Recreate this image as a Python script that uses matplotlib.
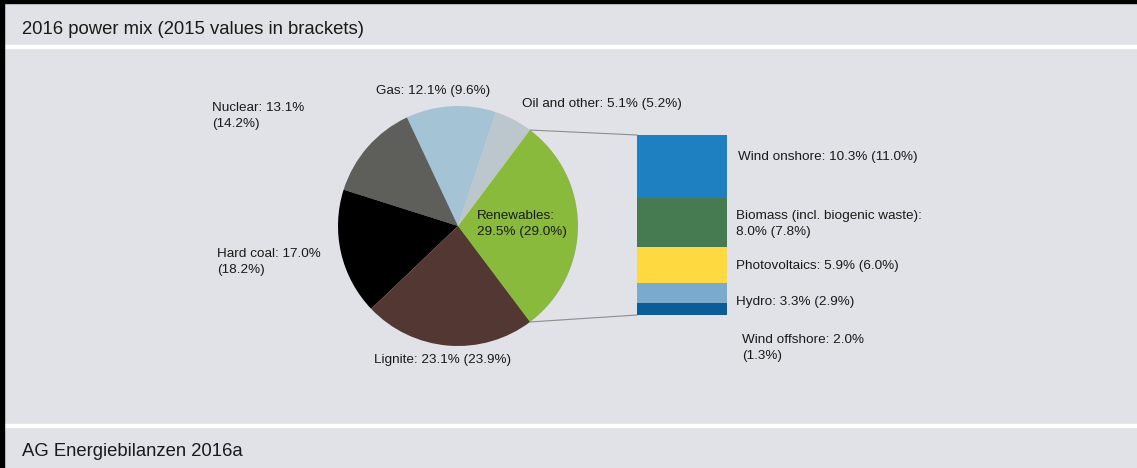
import matplotlib.pyplot as plt
from matplotlib.patches import Rectangle, ConnectionPatch
import numpy as np

W, H = 1137, 468

# 2016 power mix, share of gross generation in %, 2015 in brackets
sources = ["Renewables", "Oil and other", "Gas", "Nuclear", "Hard coal", "Lignite"]
share_2016 = [29.5, 5.1, 12.1, 13.1, 17.0, 23.1]
share_2015 = [29.0, 5.2, 9.6, 14.2, 18.2, 23.9]
pie_colors = ["#8aba3c", "#bcc6cd", "#a4c3d5", "#5e5f5a", "#000000", "#523732"]

# breakdown of renewables, top to bottom
ren_sources = ["Wind onshore", "Biomass (incl. biogenic waste)", "Photovoltaics", "Hydro", "Wind offshore"]
ren_2016 = [10.3, 8.0, 5.9, 3.3, 2.0]
ren_2015 = [11.0, 7.8, 6.0, 2.9, 1.3]
ren_colors = ["#1f80c1", "#467a51", "#ffd940", "#7aaacd", "#0b5d99"]

plt.rcParams['font.family'] = ['Liberation Sans', 'DejaVu Sans']
plt.rcParams['text.color'] = '#1a1a1a'
fig = plt.figure(figsize=(W / 100, H / 100), dpi=100)
fig.patch.set_facecolor("#e1e2e7")

# background frame in pixel coordinates
bg = fig.add_axes([0, 0, 1, 1])
bg.set_xlim(0, W)
bg.set_ylim(H, 0)
bg.axis("off")
bg.add_patch(Rectangle((0, 45), W, 3, color="white", zorder=1))
bg.add_patch(Rectangle((0, 424), W, 3, color="white", zorder=1))
bg.add_patch(Rectangle((0, 0), W, 3, color="black", zorder=2))
bg.add_patch(Rectangle((0, 0), 4, H, color="black", zorder=2))
bg.text(22, 29.5, "2016 power mix (2015 values in brackets)", fontsize=13.3, va="center")
bg.text(22, 451, "AG Energiebilanzen 2016a", fontsize=13.3, va="center")

# pie of all sources, renewables centred on the right
pie_ax = fig.add_axes([(458 - 120) / W, (H - 346) / H, 240 / W, 240 / H])
start = -share_2016[0] / 100 * 360 / 2
pie_ax.pie(share_2016, colors=pie_colors, startangle=start, counterclock=True,
           radius=1, wedgeprops=dict(linewidth=0))
pie_ax.set_xlim(-1, 1)
pie_ax.set_ylim(-1, 1)

# stacked bar for the renewables breakdown
bar_ax = fig.add_axes([637 / W, (H - 315) / H, 90 / W, 180 / H])
bottom = 0
for val, col in zip(ren_2016[::-1], ren_colors[::-1]):
    bar_ax.bar(0, val, bottom=bottom, width=1, color=col, linewidth=0)
    bottom += val
bar_ax.set_xlim(-0.5, 0.5)
bar_ax.set_ylim(0, sum(ren_2016))
bar_ax.axis("off")

# connector lines from the renewables wedge to the bar
a = np.deg2rad(-start)
for sgn, ybar in [(1, sum(ren_2016)), (-1, 0)]:
    con = ConnectionPatch(xyA=(np.cos(a), sgn * np.sin(a)), coordsA=pie_ax.transData,
                          xyB=(-0.5, ybar), coordsB=bar_ax.transData,
                          color="#8c8c8c", lw=0.8)
    fig.add_artist(con)

fs = 9.7
ls = 1.45
lbl = "{}: {:.1f}% ({:.1f}%)"
two = "{}: {:.1f}%\n({:.1f}%)"
bg.text(212, 116, two.format(sources[3], share_2016[3], share_2015[3]), fontsize=fs,
        va="center", linespacing=ls)
bg.text(376, 91, lbl.format(sources[2], share_2016[2], share_2015[2]), fontsize=fs, va="center")
bg.text(522, 104, lbl.format(sources[1], share_2016[1], share_2015[1]), fontsize=fs, va="center")
# renewables label sits on the wedge, so it belongs to the pie axes
pie_ax.text(477, 224, "{}:\n{:.1f}% ({:.1f}%)".format(sources[0], share_2016[0], share_2015[0]),
            transform=bg.transData, fontsize=fs, va="center", linespacing=ls)
bg.text(217, 262, two.format(sources[4], share_2016[4], share_2015[4]), fontsize=fs,
        va="center", linespacing=ls)
bg.text(374, 360, lbl.format(sources[5], share_2016[5], share_2015[5]), fontsize=fs, va="center")

bg.text(738, 157, lbl.format(ren_sources[0], ren_2016[0], ren_2015[0]), fontsize=fs, va="center")
bg.text(736, 224, "{}:\n{:.1f}% ({:.1f}%)".format(ren_sources[1], ren_2016[1], ren_2015[1]),
        fontsize=fs, va="center", linespacing=ls)
bg.text(736, 266, lbl.format(ren_sources[2], ren_2016[2], ren_2015[2]), fontsize=fs, va="center")
bg.text(736, 302, lbl.format(ren_sources[3], ren_2016[3], ren_2015[3]), fontsize=fs, va="center")
bg.text(742, 348, two.format(ren_sources[4], ren_2016[4], ren_2015[4]), fontsize=fs,
        va="center", linespacing=ls)

fig.savefig("out.png", dpi=100, facecolor=fig.get_facecolor())
